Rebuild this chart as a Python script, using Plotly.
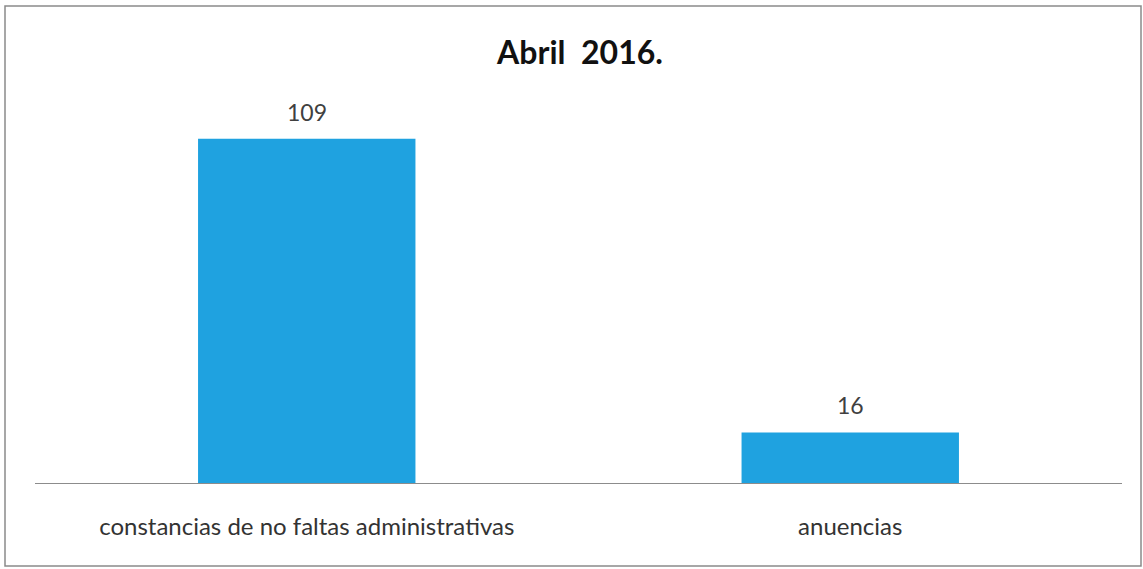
import plotly.graph_objects as go

categories = ["constancias de no faltas administrativas", "anuencias"]
values = [109, 16]
title_text = "Abril  2016."

W, H = 1143, 569
ml, mr, mt, mb = 35, 21, 104, 86
pw, ph = W - ml - mr, H - mt - mb
FONT = "Lato, Carlito, sans-serif"

fig = go.Figure(go.Bar(
    x=categories, y=values, width=0.4,
    marker=dict(color="#1FA2E0", line=dict(width=0)),
    hoverinfo="skip",
))

for c, v in zip(categories, values):
    fig.add_annotation(x=c, y=v, text=str(v), showarrow=False,
                       yanchor="middle", yshift=27,
                       font=dict(family=FONT, size=23, color="#404040"))

# outer border
fig.add_shape(type="rect", xref="paper", yref="paper",
              x0=(5 - ml) / pw, x1=(1141 - ml) / pw,
              y0=(H - mb - 566) / ph, y1=(H - mb - 6) / ph,
              line=dict(color="#8a8a8a", width=1.5), fillcolor="rgba(0,0,0,0)")

fig.update_layout(
    width=W, height=H,
    margin=dict(l=ml, r=mr, t=mt, b=mb),
    paper_bgcolor="white", plot_bgcolor="white",
    title=dict(text="<b>" + title_text + "</b>", x=(580 / W), xanchor="center",
               y=1 - 53 / H, yanchor="middle",
               font=dict(family=FONT, size=32, color="#111111")),
    showlegend=False,
)
fig.update_xaxes(showline=True, linecolor="#8c8c8c", linewidth=1,
                 ticks="", showgrid=False, ticklabelstandoff=22,
                 tickfont=dict(family=FONT, size=24, color="#333333"))
fig.update_yaxes(range=[0, 120], visible=False, showgrid=False, zeroline=False)

fig.write_html("out.html", config={"displayModeBar": False},
               post_script="document.body.style.margin='0';")
